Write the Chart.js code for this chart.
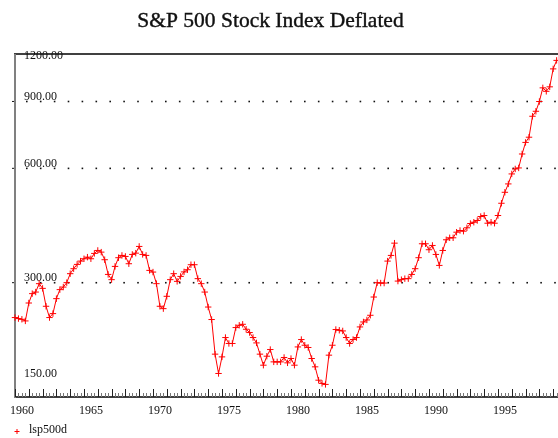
<!DOCTYPE html>
<html>
<head>
<meta charset="utf-8">
<script src="https://cdn.jsdelivr.net/npm/chart.js@4.4.1/dist/chart.umd.min.js"></script>
<style>
  html, body { margin: 0; padding: 0; background: #fff; overflow: hidden; }
  canvas { display: block; }
</style>
</head>
<body>
<canvas id="chart" width="558" height="438"></canvas>
<script>
// S&P 500 deflated, quarterly 1960Q1 .. 1999Q2 (log scale)
const chartTitle = 'S&P 500 Stock Index Deflated';
const seriesName = 'lsp500d';
const firstYear = 1960;
const yearLabels = [1960, 1965, 1970, 1975, 1980, 1985, 1990, 1995];
const valueTicks = [150, 300, 600, 900, 1200];
const gridValues = [300, 600, 900];

const values = [
  242.8, 241.3, 240.3, 237.9, 265.2, 280.7, 283.4, 298.2, 289.8, 260.0,
  242.8, 248.7, 272.3, 287.6, 292.1, 300.0, 316.8, 326.5, 335.1, 341.9,
  346.8, 350.2, 346.8, 358.2, 364.7, 361.0, 344.8, 315.4, 305.5, 331.1,
  349.0, 353.9, 351.7, 336.5, 356.0, 358.8, 373.7, 356.0, 353.9, 323.2,
  319.9, 298.2, 260.0, 256.3, 276.2, 305.5, 316.8, 302.4, 311.6, 320.2,
  324.5, 334.5, 334.5, 307.4, 298.2, 283.4, 258.8, 239.9, 194.5, 173.0,
  191.3, 215.1, 207.5, 207.5, 228.5, 231.7, 233.1, 226.2, 221.7, 215.1,
  208.2, 194.5, 181.9, 192.1, 200.0, 185.6, 185.6, 185.6, 190.6, 184.5,
  189.4, 181.9, 203.2, 212.5, 205.3, 202.5, 189.4, 180.1, 166.1, 162.9,
  161.9, 193.3, 205.3, 225.8, 224.8, 223.9, 215.1, 207.5, 212.5, 215.1,
  229.4, 236.4, 239.3, 246.2, 275.0, 300.0, 299.3, 299.3, 341.9, 353.9,
  381.2, 302.9, 305.5, 307.4, 307.4, 315.4, 326.5, 349.0, 379.8, 379.8,
  366.3, 375.9, 356.0, 333.1, 364.7, 389.1, 393.8, 393.8, 407.4, 411.6,
  409.9, 418.4, 429.4, 432.8, 437.3, 448.0, 450.7, 430.2, 432.8, 430.2,
  450.7, 485.5, 518.9, 545.9, 580.0, 597.8, 601.4, 654.5, 702.1, 724.6,
  822.7, 848.0, 899.7, 977.4, 957.0, 983.4, 1096.5, 1154.4
];

// quarter dates as decimal years
const quarters = values.map((v, i) => firstYear + i / 4);

const serif = '"Liberation Serif", "Times New Roman", serif';

// axes, dotted grid, labels, title and legend
const framePlugin = {
  id: 'frame',
  beforeDatasetsDraw(chart) {
    const { ctx, chartArea: a, scales: { x, y } } = chart;
    ctx.save();

    // dotted grid lines
    ctx.fillStyle = '#111';
    gridValues.forEach(v => {
      const py = y.getPixelForValue(v);
      for (let px = 26; px < a.right; px += 13.9) {
        ctx.fillRect(px, py - 0.75, 1.6, 1.6);
      }
      ctx.fillRect(a.left - 3, py - 0.5, 3, 1);
    });

    // top frame line
    ctx.strokeStyle = '#000';
    ctx.lineWidth = 1.5;
    ctx.beginPath();
    ctx.moveTo(a.left - 1, a.top);
    ctx.lineTo(a.right, a.top);
    ctx.stroke();

    // bottom axis
    ctx.beginPath();
    ctx.moveTo(a.left, a.bottom);
    ctx.lineTo(a.right, a.bottom);
    ctx.stroke();

    // left axis (grey)
    ctx.strokeStyle = '#808080';
    ctx.lineWidth = 2;
    ctx.beginPath();
    ctx.moveTo(a.left, a.top);
    ctx.lineTo(a.left, a.bottom + 1);
    ctx.stroke();

    // quarterly tick marks, longer on years
    ctx.lineWidth = 1;
    for (let q = 0; ; q++) {
      const px = Math.round(x.getPixelForValue(firstYear + q / 4)) + 0.5;
      if (px > a.right) break;
      const major = q % 4 === 0;
      ctx.strokeStyle = major ? '#222' : '#777';
      ctx.beginPath();
      ctx.moveTo(px, a.bottom);
      ctx.lineTo(px, a.bottom - (major ? 8 : 4));
      ctx.stroke();
    }

    // x labels
    ctx.fillStyle = '#111';
    ctx.font = '12px ' + serif;
    ctx.textAlign = 'center';
    ctx.textBaseline = 'alphabetic';
    yearLabels.forEach(yr => {
      ctx.fillText(String(yr), x.getPixelForValue(yr) + 7, 413.5);
    });

    // y labels inside the plot, above their lines
    ctx.textAlign = 'left';
    valueTicks.forEach(v => {
      let py = y.getPixelForValue(v) - 1.5;
      py = Math.max(py, a.top + 5);
      py = Math.min(py, a.bottom - 20);
      ctx.fillText(v.toFixed(2), 24, py);
    });

    ctx.restore();
  },
  afterDraw(chart) {
    const { ctx } = chart;
    ctx.save();
    // title
    ctx.fillStyle = '#111';
    ctx.font = '21.5px ' + serif;
    ctx.textAlign = 'center';
    ctx.textBaseline = 'alphabetic';
    ctx.fillText(chartTitle, 270.5, 27);
    ctx.strokeStyle = '#111';
    ctx.lineWidth = 0.4;
    ctx.strokeText(chartTitle, 270.5, 27);

    // legend
    ctx.strokeStyle = '#ff0000';
    ctx.lineWidth = 1;
    ctx.beginPath();
    ctx.moveTo(14.5, 431.5); ctx.lineTo(19.5, 431.5);
    ctx.moveTo(17, 429); ctx.lineTo(17, 434);
    ctx.stroke();
    ctx.font = '12px ' + serif;
    ctx.textAlign = 'left';
    ctx.fillText(seriesName, 29, 432.5);
    ctx.restore();
  }
};

new Chart(document.getElementById('chart'), {
  type: 'line',
  data: {
    datasets: [{
      label: seriesName,
      data: quarters.map((t, i) => ({ x: t, y: values[i] })),
      borderColor: '#ff0000',
      borderWidth: 1,
      pointStyle: 'cross',
      pointRadius: 3.2,
      pointBorderColor: '#ff0000',
      pointBorderWidth: 1,
      tension: 0,
      clip: false
    }]
  },
  options: {
    responsive: false,
    animation: false,
    devicePixelRatio: 1,
    layout: { autoPadding: false, padding: { left: 15, right: 0, top: 54, bottom: 41 } },
    plugins: {
      legend: { display: false },
      title: { display: false },
      tooltip: { enabled: false }
    },
    scales: {
      x: { type: 'linear', min: 1960, max: 1999.35, display: false },
      y: { type: 'logarithmic', min: 150, max: 1200, display: false }
    }
  },
  plugins: [framePlugin]
});
</script>
</body>
</html>
